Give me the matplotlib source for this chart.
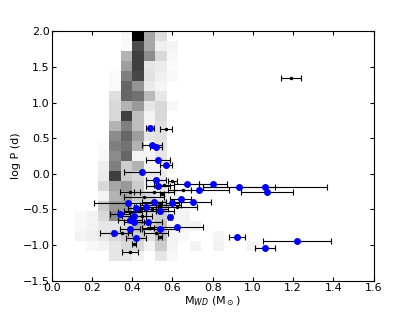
import numpy as np
import matplotlib
matplotlib.use("Agg")
import matplotlib.pyplot as plt

# 2D density background: rows from log P = 2.0 (top) down to -1.5, columns 2..17 of 28 mass bins
heat_cols = list(range(2, 18))
heat_rows = [
    [0, 0, 0, 0, 0.03, 1.00, 0.35, 0.13, 0, 0, 0, 0, 0, 0, 0, 0],
    [0, 0, 0, 0, 0.02, 0.70, 0.35, 0.06, 0.05, 0, 0, 0, 0, 0, 0, 0],
    [0, 0, 0, 0, 0.30, 0.75, 0.45, 0.15, 0.03, 0, 0, 0, 0, 0, 0, 0],
    [0, 0, 0, 0, 0.38, 0.75, 0.10, 0.08, 0.02, 0, 0, 0, 0, 0, 0, 0],
    [0, 0, 0, 0.02, 0.50, 0.72, 0.12, 0.06, 0.03, 0, 0, 0, 0, 0, 0, 0],
    [0, 0, 0, 0.02, 0.60, 0.42, 0.08, 0.04, 0, 0, 0, 0, 0, 0, 0, 0],
    [0, 0, 0, 0.13, 0.60, 0.56, 0.27, 0.09, 0, 0, 0, 0, 0, 0, 0, 0],
    [0, 0, 0, 0.15, 0.30, 0.40, 0.10, 0.15, 0.03, 0, 0, 0, 0, 0, 0, 0],
    [0, 0, 0, 0.15, 0.75, 0.25, 0.05, 0.15, 0, 0, 0, 0, 0, 0, 0, 0],
    [0, 0, 0, 0.30, 0.50, 0.25, 0.05, 0.12, 0, 0, 0, 0, 0, 0, 0, 0],
    [0, 0, 0, 0.45, 0.60, 0.38, 0.10, 0.12, 0, 0, 0, 0, 0, 0, 0, 0],
    [0, 0, 0.02, 0.50, 0.55, 0.30, 0, 0.10, 0, 0, 0, 0, 0, 0, 0, 0],
    [0, 0, 0.03, 0.45, 0.60, 0.05, 0.05, 0.10, 0, 0, 0, 0, 0, 0, 0, 0],
    [0, 0, 0.07, 0.50, 0.20, 0.30, 0.05, 0.05, 0.02, 0, 0, 0, 0, 0, 0, 0],
    [0, 0, 0.08, 0.75, 0.20, 0.15, 0.08, 0.08, 0, 0, 0, 0, 0, 0, 0, 0],
    [0, 0, 0.15, 0.35, 0.40, 0.20, 0.05, 0.10, 0, 0, 0, 0, 0, 0, 0, 0],
    [0, 0, 0.05, 0.30, 0.35, 0.20, 0.15, 0.10, 0.05, 0, 0, 0, 0, 0, 0, 0],
    [0, 0, 0.20, 0.40, 0.40, 0.15, 0.15, 0.25, 0.03, 0.03, 0.03, 0, 0, 0, 0, 0],
    [0.03, 0.05, 0.15, 0.45, 0.20, 0.20, 0.15, 0.20, 0.05, 0.05, 0, 0, 0, 0, 0, 0],
    [0.03, 0.05, 0.10, 0.10, 0.15, 0.30, 0.15, 0.25, 0.05, 0.05, 0.05, 0, 0, 0, 0, 0],
    [0.05, 0.06, 0.10, 0.15, 0.20, 0.20, 0.12, 0.25, 0.05, 0.03, 0, 0, 0.04, 0, 0, 0],
    [0, 0.03, 0.05, 0.10, 0.15, 0.15, 0.05, 0.20, 0.05, 0, 0.05, 0, 0.05, 0, 0, 0.05],
    [0, 0, 0, 0.10, 0.10, 0.05, 0, 0.10, 0.03, 0, 0, 0, 0, 0, 0, 0],
    [0, 0, 0, 0, 0, 0, 0, 0, 0, 0, 0, 0, 0, 0, 0, 0],
    [0, 0, 0, 0, 0, 0, 0, 0, 0, 0, 0, 0, 0, 0, 0, 0],
]

# observed systems, blue
blue_m = [0.49, 0.50, 0.52, 0.53, 0.57, 0.45, 0.52, 0.53, 0.67, 0.80, 0.93, 1.06,
          1.07, 0.73, 0.64, 0.70, 0.60, 0.51, 0.38, 0.42, 0.47, 0.54, 0.34, 0.41,
          0.59, 0.39, 0.41, 0.48, 0.62, 0.54, 0.39, 0.31, 0.42, 0.92, 1.22, 1.06]
blue_p = [0.64, 0.40, 0.38, 0.20, 0.13, 0.02, -0.09, -0.17, -0.14, -0.14, -0.18, -0.18,
          -0.26, -0.23, -0.35, -0.39, -0.41, -0.40, -0.41, -0.48, -0.47, -0.52, -0.57, -0.59,
          -0.61, -0.65, -0.68, -0.68, -0.74, -0.78, -0.78, -0.83, -0.90, -0.88, -0.94, -1.04]
blue_err = [0.02, 0.05, 0.03, 0.06, 0.03, 0.09, 0.05, 0.06, 0.06, 0.07, 0.18, 0.31,
            0.13, 0.15, 0.05, 0.09, 0.03, 0.06, 0.17, 0.04, 0.05, 0.07, 0.05, 0.06,
            0.01, 0.06, 0.05, 0.07, 0.13, 0.09, 0.05, 0.07, 0.05, 0.04, 0.17, 0.05]

# observed systems, black
black_m = [1.19, 0.57, 0.39, 0.41, 0.54, 0.52, 0.35, 0.48, 0.46, 0.39, 0.51, 0.55,
           0.60, 0.56, 0.65, 0.44, 0.47, 0.50, 0.54, 0.62, 0.39, 0.45]
black_p = [1.34, 0.63, -1.10, -0.99, -0.89, -0.83, -0.83, -0.76, -0.33, -0.25, -0.25, -0.28,
           -0.10, -0.16, -0.22, -0.52, -0.46, -0.49, -0.44, -0.46, -0.54, -0.59]
black_err = [0.05, 0.03, 0.04, 0.01, 0.01, 0.06, 0.05, 0.03, 0.10, 0.05, 0.10, 0.01,
             0.02, 0.05, 0.04, 0.08, 0.06, 0.08, 0.10, 0.10, 0.06, 0.05]

plt.rcParams['xtick.direction'] = 'in'
plt.rcParams['ytick.direction'] = 'in'
plt.rcParams['font.size'] = 8

fig, ax = plt.subplots(figsize=(4.15, 3.12), dpi=100)
fig.subplots_adjust(left=0.125, right=0.9, bottom=0.1, top=0.9)

heat = np.zeros((25, 28))
heat[:, heat_cols[0]:heat_cols[-1] + 1] = np.array(heat_rows)
xedges = np.linspace(0.0, 1.6, 29)
yedges = np.linspace(2.0, -1.5, 26)
ax.pcolormesh(xedges, yedges, heat, cmap='gray_r', vmin=0, vmax=1)

ax.errorbar(black_m, black_p, xerr=black_err, fmt='o', color='k', ms=1.5,
            ecolor='k', elinewidth=0.8, capsize=2, capthick=0.8)
ax.errorbar(blue_m, blue_p, xerr=blue_err, fmt='o', mfc='b', mec='b', ms=4,
            ecolor='k', elinewidth=0.8, capsize=2, capthick=0.8)

ax.set_xlim(0.0, 1.6)
ax.set_ylim(-1.5, 2.0)
ax.set_xticks(np.arange(0, 1.61, 0.2))
ax.set_yticks(np.arange(-1.5, 2.01, 0.5))
ax.tick_params(top=True, right=True, length=3, pad=1.5)
ax.set_xlabel(r'M$_{WD}$ (M$_\odot$)', labelpad=1)
ax.set_ylabel('log P (d)', labelpad=1)

fig.savefig('out.png', dpi=100)
